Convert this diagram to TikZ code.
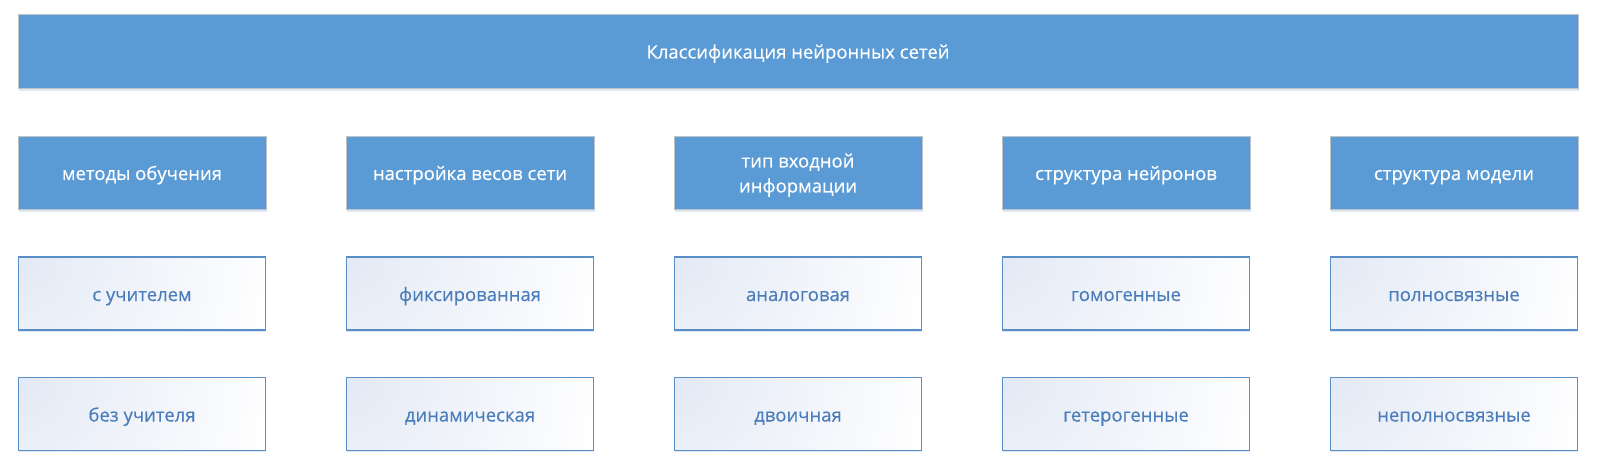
\documentclass[tikz,border=0pt]{standalone}
\usepackage{fontspec}
\setmainfont{Open Sans}
\newfontfamily\boxff{Open Sans}[FakeBold=0.35]
\usetikzlibrary{shadows}
\definecolor{officeblue}{HTML}{5B9BD5}
\definecolor{greyedge}{HTML}{BFC3C8}
\definecolor{outedge}{HTML}{5A8EC7}
\definecolor{outtext}{HTML}{4A7DBA}
\definecolor{gradtl}{HTML}{E3E9F5}
\definecolor{shadowblue}{HTML}{DDE8F4}
\pgfdeclareradialshading{cornerglow}{\pgfpoint{0bp}{0bp}}{color(0bp)=(gradtl); color(17bp)=(white); color(50bp)=(white)}
\tikzset{
  boxfont/.style={font=\boxff\fontsize{18.5}{25}\selectfont},
  oneline/.style={text height=17pt, text depth=2pt},
  headbase/.style={draw=greyedge, line width=0.8pt, fill=officeblue, text=white,
    minimum width=248pt, minimum height=73pt, inner sep=2pt, align=center, boxfont,
    general shadow={fill=shadowblue, shadow xshift=1pt, shadow yshift=-3pt}},
  headbox/.style={headbase, oneline},
  twoline/.style={headbase, text height=42pt, text depth=2pt},
  topbox/.style={headbox, minimum width=1560pt, minimum height=74pt},
  leafbox/.style={draw=outedge, line width=1.7pt, text=outtext, fill=white,
    path picture={\shade[shading=cornerglow]
      (path picture bounding box.north west) circle (380pt);},
    minimum width=247pt, minimum height=73pt, inner sep=2pt, align=center, boxfont, oneline,
    general shadow={fill=shadowblue, shadow xshift=0.5pt, shadow yshift=-1.5pt}}
}
\begin{document}
\begin{tikzpicture}[x=1pt,y=-1pt]
\useasboundingbox[fill=white] (0,0) rectangle (1611,473);
\node[topbox] (top) at (798,51) {Классификация нейронных сетей};
\node[headbox] (h1) at (142,172.5) {методы обучения};
\node[headbox] (h2) at (470,172.5) {настройка весов сети};
\node[twoline] (h3) at (798,172.5) {тип входной\\информации};
\node[headbox] (h4) at (1126,172.5) {структура нейронов};
\node[headbox] (h5) at (1454,172.5) {структура модели};
\node[leafbox] (a1) at (142,293.5) {с учителем};
\node[leafbox] (a2) at (470,293.5) {фиксированная};
\node[leafbox] (a3) at (798,293.5) {аналоговая};
\node[leafbox] (a4) at (1126,293.5) {гомогенные};
\node[leafbox] (a5) at (1454,293.5) {полносвязные};
\node[leafbox] (b1) at (142,414) {без учителя};
\node[leafbox] (b2) at (470,414) {динамическая};
\node[leafbox] (b3) at (798,414) {двоичная};
\node[leafbox] (b4) at (1126,414) {гетерогенные};
\node[leafbox] (b5) at (1454,414) {неполносвязные};
\end{tikzpicture}
\end{document}
